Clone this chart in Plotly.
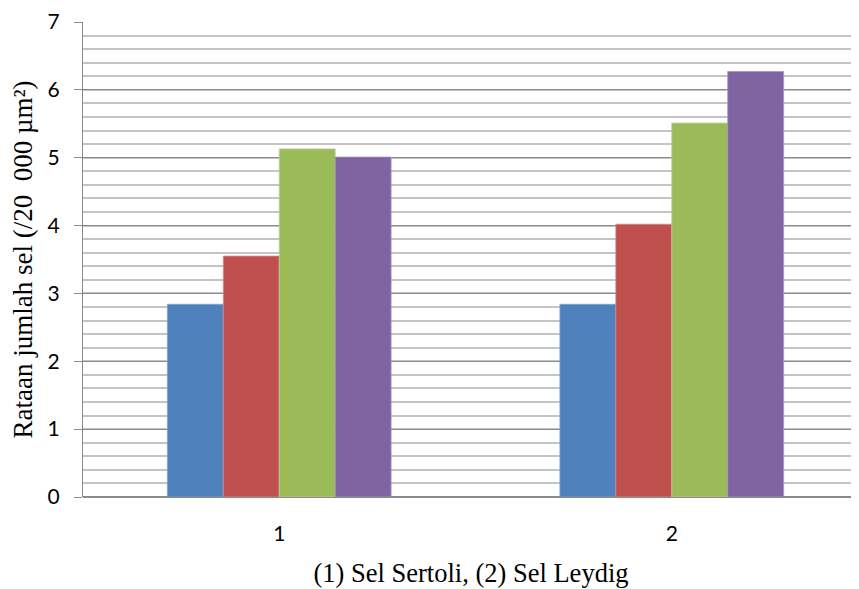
import plotly.graph_objects as go

categories = ["1", "2"]
series_names = ["P1", "P2", "P3", "P4"]
values = [
    [2.84, 2.84],
    [3.55, 4.02],
    [5.13, 5.51],
    [5.01, 6.27],
]
colors = ["#4F81BD", "#C0504D", "#9BBB59", "#8064A2"]
line_colors = ["#7FA3CF", "#D58A88", "#BBD18F", "#A894C0"]
y_ticks = [0, 1, 2, 3, 4, 5, 6, 7]

fig = go.Figure()
for name, vals, c, lc in zip(series_names, values, colors, line_colors):
    fig.add_trace(go.Bar(
        x=categories, y=vals, name=name,
        marker=dict(color=c, line=dict(color=lc, width=0.8)),
        showlegend=False,
    ))

fig.update_layout(
    width=851, height=581,
    margin=dict(l=75, r=0, t=12, b=92),
    paper_bgcolor="white", plot_bgcolor="white",
    barmode="group", bargap=0.43, bargroupgap=0,
    xaxis=dict(
        type="category",
        range=[-0.5, 1.477],
        showgrid=False,
        showline=False,
        ticks="",
        ticklabelstandoff=22,
        tickfont=dict(family="Lato", size=21, color="black"),
        title=dict(text="(1) Sel Sertoli, (2) Sel Leydig",
                   font=dict(family="Liberation Serif", size=26.5, color="black"),
                   standoff=19),
    ),
    yaxis=dict(
        range=[0, 7],
        tickvals=y_ticks,
        showgrid=True, gridcolor="#8A8A8A", gridwidth=1,
        minor=dict(dtick=0.2, showgrid=True, gridcolor="#C4C4C4", gridwidth=1.5),
        showline=True, linecolor="#8A8A8A", linewidth=1,
        ticks="outside", ticklen=8, tickcolor="#8A8A8A",
        ticklabelstandoff=10,
        ticklabeloverflow="allow",
        tickfont=dict(family="Lato", size=21, color="black"),
        zeroline=True, zerolinecolor="#8A8A8A", zerolinewidth=1.5,
        title=dict(text="Rataan jumlah sel (/20  000 µm²)",
                   font=dict(family="Liberation Serif", size=27, color="black"),
                   standoff=11),
    ),
)

fig.write_html("out.html")
